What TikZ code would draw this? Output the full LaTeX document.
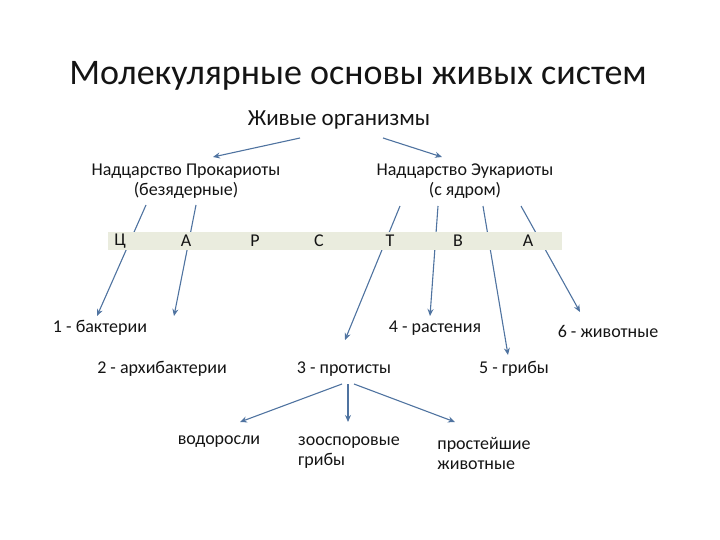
\documentclass[tikz,border=0pt]{standalone}
\usepackage{fontspec}
\usetikzlibrary{arrows.meta}
\setmainfont{Carlito}
\definecolor{arr}{RGB}{79,115,160}
\definecolor{band}{RGB}{234,236,222}
\definecolor{txt}{RGB}{20,20,20}
\begin{document}
\begin{tikzpicture}[x=1pt,y=-1pt,
  lab/.style={text=txt,font=\fontsize{18}{20}\selectfont,inner sep=1pt,align=center},
  let/.style={text=txt,font=\fontsize{18}{20}\selectfont,inner sep=0pt},
  ar/.style={draw=arr,line width=1.1pt,-{Stealth[length=7pt,width=6pt]}}]
\useasboundingbox (0,0) rectangle (720,540);
\node[text=txt,font=\fontsize{36}{40}\selectfont] (title) at (358,76) {Молекулярные основы живых систем};
\node[lab,font=\fontsize{23}{26}\selectfont] (live) at (339,120) {Живые организмы};
\node[lab] (pro) at (186,181) {Надцарство Прокариоты\\(безядерные)};
\node[lab] (euk) at (465,181) {Надцарство Эукариоты\\(с ядром)};
\coordinate (t1) at (300,138); \coordinate (t2) at (383,138);
\coordinate (p1) at (146,205); \coordinate (p2) at (196,205);
\coordinate (e1) at (400,206); \coordinate (e2) at (438,206);
\coordinate (e3) at (483,206); \coordinate (e4) at (521,206);
\coordinate (s1) at (342,384); \coordinate (s2) at (348,384); \coordinate (s3) at (354,384);
\node[lab] (n1) at (100,328) {1 - бактерии};
\node[lab] (n2) at (162,369) {2 - архибактерии};
\node[lab] (n3) at (344,369) {3 - протисты};
\node[lab] (n4) at (435,328) {4 - растения};
\node[lab] (n5) at (514,369) {5 - грибы};
\node[lab] (n6) at (608,331) {6 - животные};
\node[lab,align=left] (a1) at (219,442) {водоросли};
\node[lab,align=left] (a2) at (349,453) {зооспоровые\\грибы};
\node[lab,align=left] (a3) at (484,453) {простейшие\\животные};
\draw[ar] (t1) -- (213,157);
\draw[ar] (t2) -- (442,157);
\draw[ar] (p1) -- (97,316);
\draw[ar] (p2) -- (174,316);
\draw[ar] (e1) -- (345,340);
\draw[ar] (e2) -- (430,316);
\draw[ar] (e3) -- (508,355);
\draw[ar] (e4) -- (580,312);
\draw[ar] (s1) -- (240,422);
\draw[ar] (s2) -- (348,422);
\draw[ar] (s3) -- (455,422);
\fill[band] (108,232) rectangle (562,250);
\foreach \t/\x [count=\i] in {Ц/120,А/186,Р/255,С/319,Т/390,В/458,А/528}
  \node[let] (l\i) at (\x,241) {\t};
\end{tikzpicture}
\end{document}
